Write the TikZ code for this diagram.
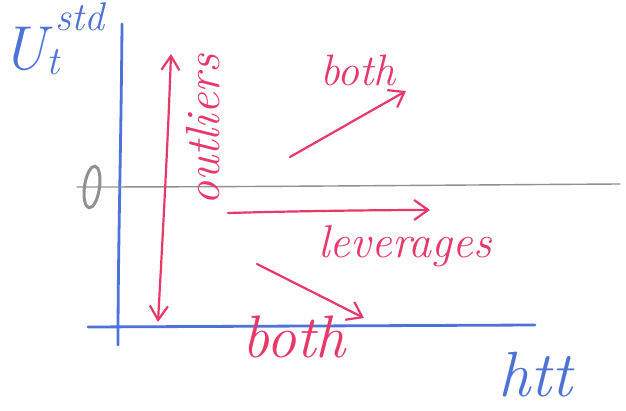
\documentclass[tikz,border=0pt]{standalone}
\usetikzlibrary{arrows.meta,shapes.geometric}
\definecolor{inkred}{HTML}{E8386A}
\definecolor{inkblue}{HTML}{4D73D8}
\definecolor{pencil}{HTML}{909090}
\tikzset{
  axis/.style={draw=inkblue, line width=2.8pt, line cap=round},
  zeroline/.style={draw=pencil, line width=1.4pt, line cap=round},
  redarrow/.style={draw=inkred, line width=2.2pt, line cap=round, line join=round, -{Straight Barb[length=14pt,width=20pt,line width=2.2pt]}},
  redtext/.style={text=inkred, font=\itshape, inner sep=0pt},
  bluetext/.style={text=inkblue, font=\itshape, inner sep=0pt},
}
\begin{document}
\begin{tikzpicture}[x=1pt,y=-1pt]
\useasboundingbox (0,0) rectangle (626,411);

% axes
\coordinate (ytop) at (122,24);
\coordinate (ybot) at (118,345);
\coordinate (xl) at (88,327);
\coordinate (xr) at (535,325);
\draw[axis] (ytop) .. controls (121,150) and (118,250) .. (ybot);
\draw[axis] (xl) -- (xr);

% zero line
\coordinate (zl) at (77,187);
\coordinate (zr) at (620,184);
\draw[zeroline] (zl) .. controls (250,187) and (450,185) .. (zr);
\node[draw=pencil, line width=3pt, ellipse, minimum width=15pt, minimum height=42pt,
      inner sep=0pt, rotate=-8] (zero) at (92,187) {};

% axis labels
\node[bluetext, font=\itshape\fontsize{62}{62}\selectfont, anchor=base] (U) at (24,70) {U};
\node[bluetext, font=\itshape\fontsize{40}{40}\selectfont, anchor=base] (tsub) at (53,75) {t};
\node[bluetext, font=\itshape\fontsize{40}{40}\selectfont, anchor=base] (std) at (80,31) {std};
\node[bluetext, font=\itshape\fontsize{64}{64}\selectfont, anchor=base] (htt) at (535,396) {htt};

% outliers: vertical double arrow
\coordinate (otop) at (171,54);
\coordinate (obot) at (158,322);
\draw[draw=inkred, line width=2.2pt, line cap=round, {Straight Barb[length=14pt,width=18pt,line width=2.2pt]}-{Straight Barb[length=14pt,width=18pt,line width=2.2pt]}]
  (obot) .. controls (163,230) and (168,140) .. (otop);
\node[redtext, font=\itshape\fontsize{48}{48}\selectfont, rotate=90] (outl) at (203,130) {outliers};

% both (upper)
\coordinate (b1s) at (290,157);
\coordinate (b1e) at (406,91);
\draw[redarrow] (b1s) -- (b1e);
\node[redtext, font=\itshape\fontsize{44}{44}\selectfont] (both1) at (358,70) {both};

% leverages
\coordinate (ls) at (228,213);
\coordinate (le) at (430,210);
\draw[redarrow] (ls) .. controls (300,211) and (380,210) .. (le);
\node[redtext, font=\itshape\fontsize{46}{46}\selectfont] (lev) at (405,246) {leverages};

% both (lower)
\coordinate (b2s) at (257,264);
\coordinate (b2e) at (364,318);
\draw[redarrow] (b2s) -- (b2e);
\node[redtext, font=\itshape\fontsize{60}{60}\selectfont] (both2) at (294,337) {both};
\end{tikzpicture}
\end{document}
